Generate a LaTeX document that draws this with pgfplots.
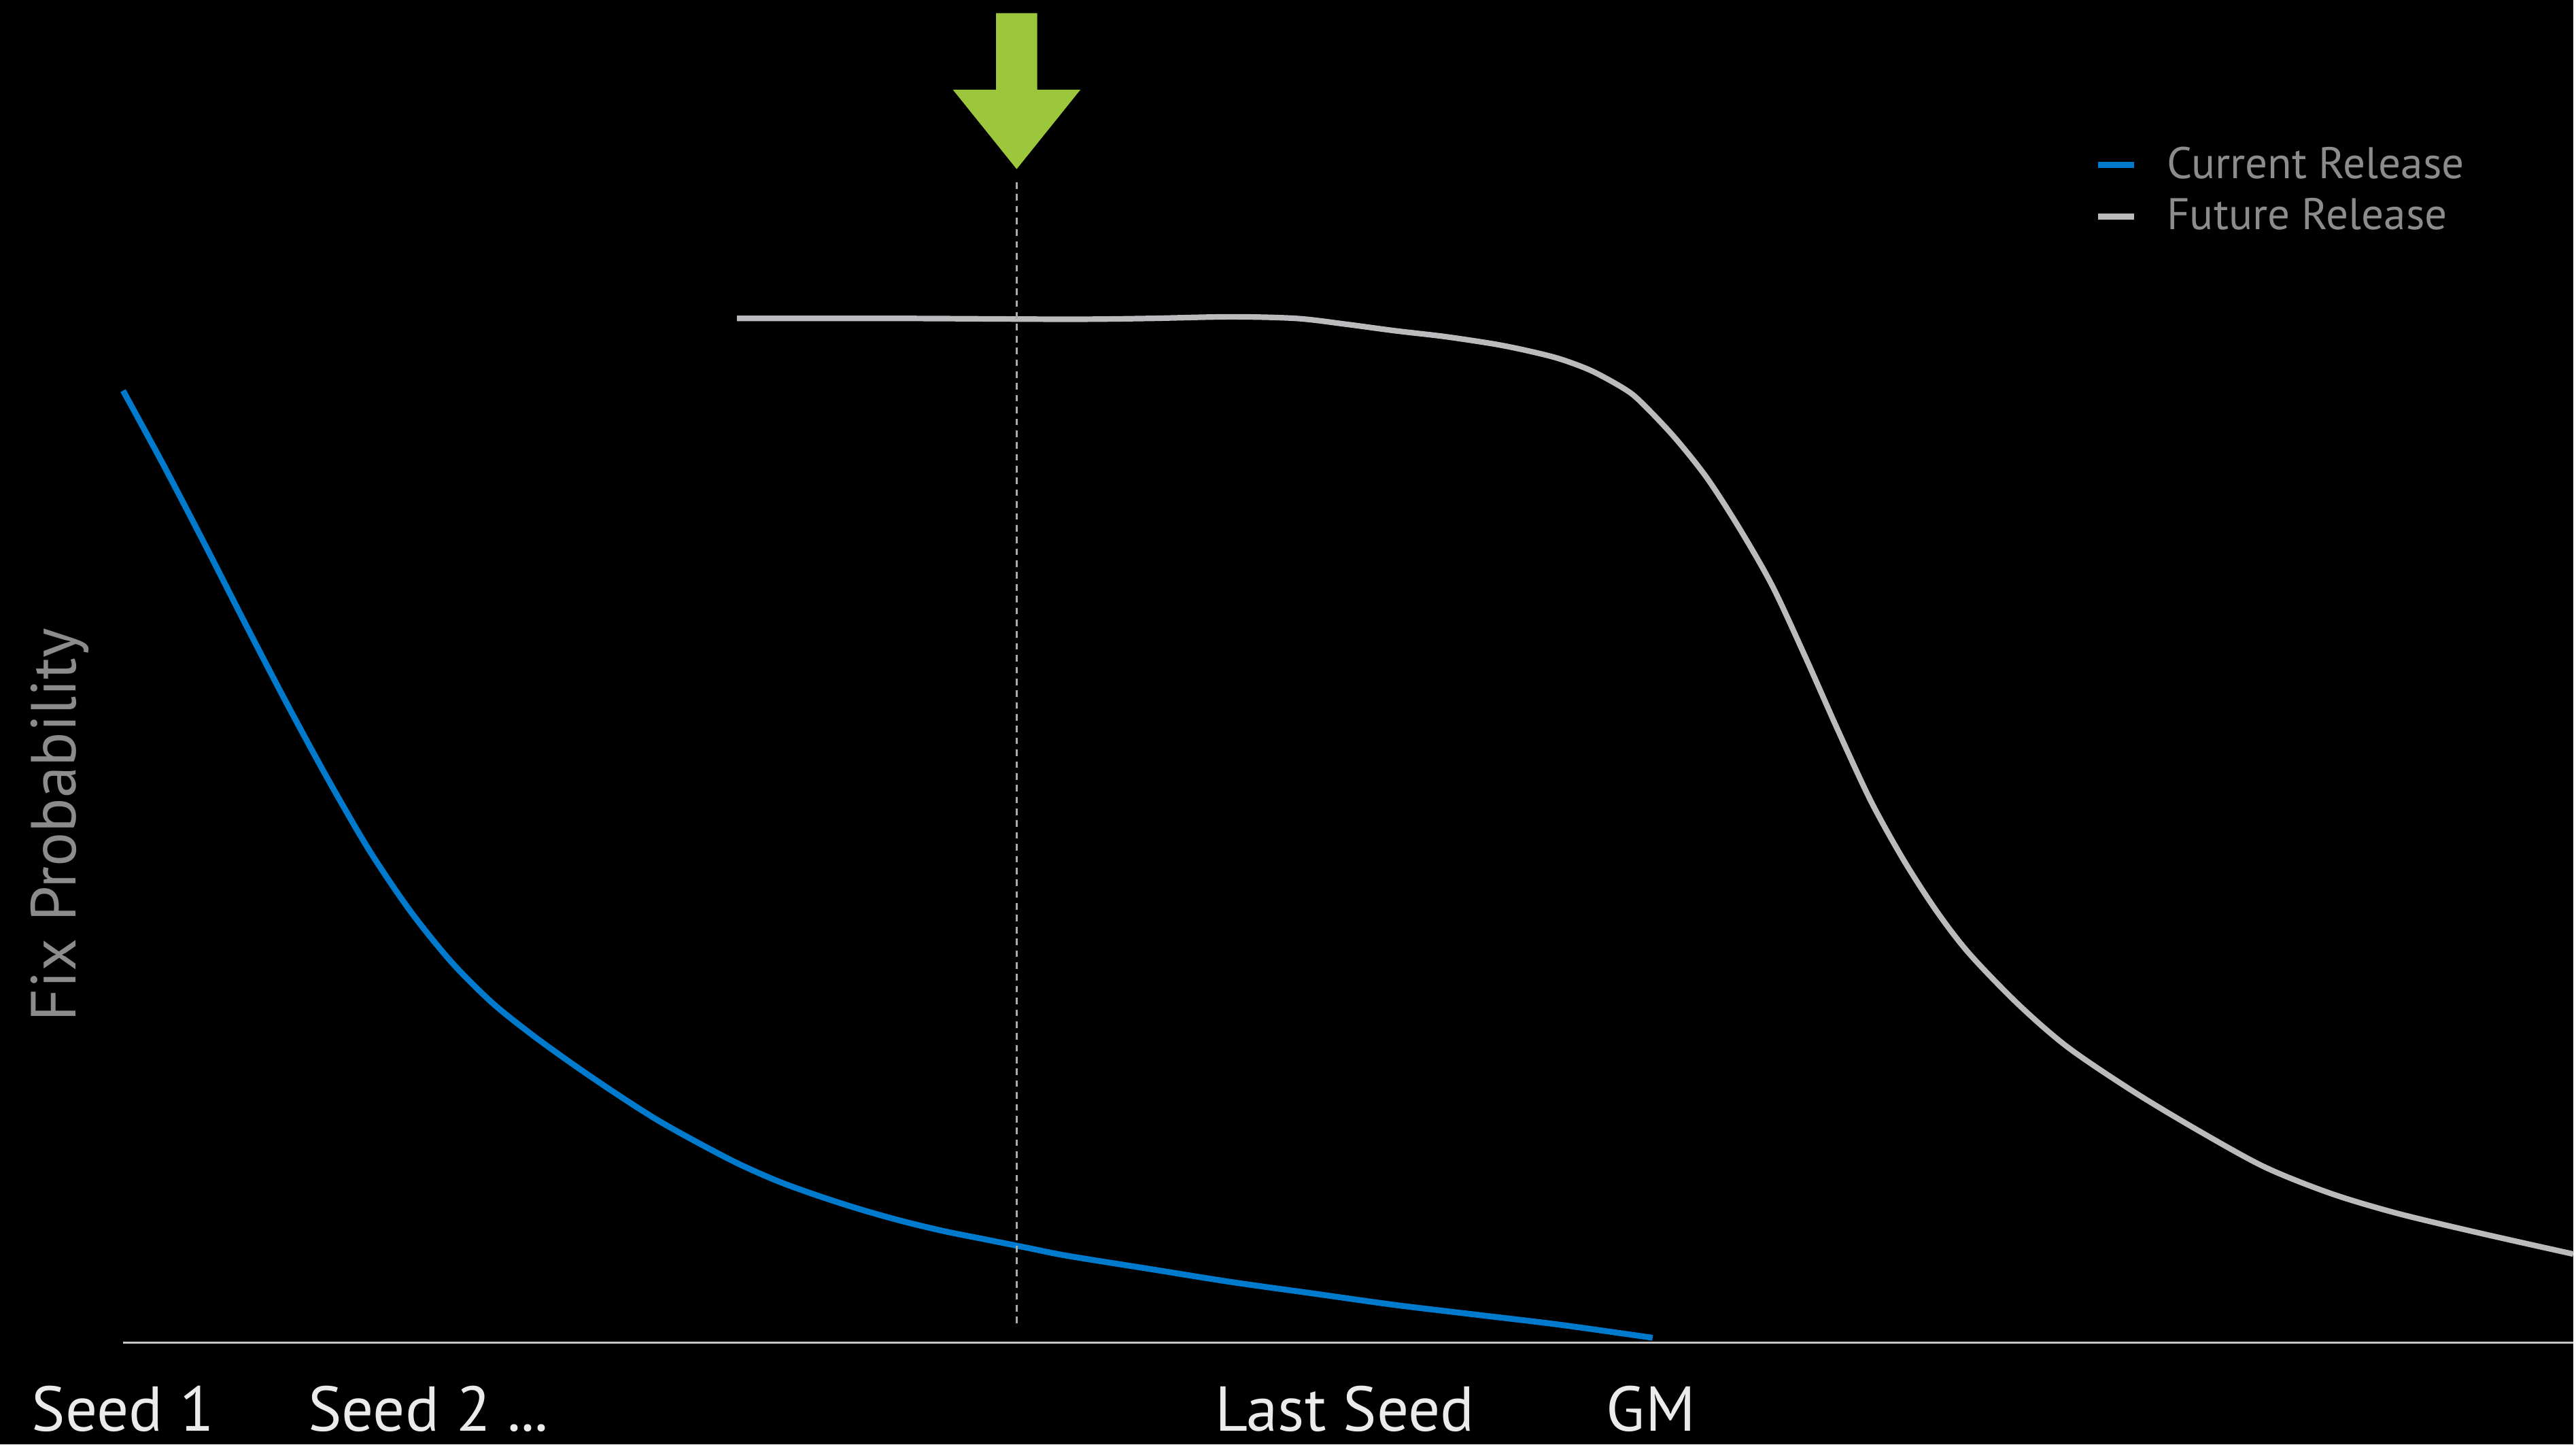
\documentclass[border=0pt]{standalone}
\usepackage{pgfplots}
\pgfplotsset{compat=1.18}
\usepackage{fontspec}
\setmainfont{PT Sans}
\definecolor{curblue}{RGB}{0,122,204}
\definecolor{futgray}{RGB}{187,187,190}
\definecolor{labgray}{RGB}{140,140,140}
\definecolor{ticklab}{RGB}{235,235,235}
\definecolor{axgray}{RGB}{196,196,196}
\definecolor{arrowgreen}{RGB}{156,198,60}
\definecolor{dashgray}{RGB}{170,170,170}
\newcommand{\dotsthree}{.\kern0pt.\kern0pt.}
\begin{document}
\begin{tikzpicture}
\fill[black] (0,0) rectangle (784pt,440pt);
\begin{axis}[
  at={(37.5pt,31pt)}, anchor=south west,
  scale only axis, width=746.5pt, height=409pt,
  xmin=75, xmax=1568, ymin=62, ymax=880,
  clip=false,
  axis x line*=bottom, axis y line*=left,
  x axis line style={draw=axgray, line width=0.6pt},
  y axis line style={draw=none},
  ytick=\empty,
  xtick={75,261,819.5,1006},
  xticklabels={Seed 1, {Seed 2 \dotsthree}, Last Seed, GM},
  major tick length=0pt,
  x tick label style={anchor=base, yshift=-27pt, text=ticklab, font=\fontsize{19.3}{22}\selectfont},
  ylabel={Fix Probability},
  ylabel style={at={(axis description cs:-0.0194,0.3857)}, anchor=base, rotate=0, text=labgray, font=\fontsize{19.4}{22}\selectfont},
  legend style={at={(axis cs:1270,799)}, anchor=north west, draw=none, fill=none,
    font=\fontsize{13.5}{15}\selectfont, text=labgray, row sep=0.6pt, column sep=7pt,
    nodes={inner sep=2pt}},
  legend cell align=left,
  legend image code/.code={\draw[#1, line width=2pt] (0pt,0pt) -- (11pt,0pt);},
]
% Current Release (y = 880 - pixel row of reference)
\addplot[curblue, line width=1.8pt, smooth] coordinates {
(75,642) (100,596) (125,548) (150,499) (175,451) (200,405) (225,362)
(250,325) (275,294) (300,269) (325,249) (350,231) (375,214) (400,198)
(425,184) (450,171) (475,160) (500,151) (525,143) (550,136) (575,130)
(600,125) (625,120) (650,115) (700,107) (750,99) (800,92) (850,85)
(900,79) (950,73) (1007,65)};
\addlegendentry{Current Release}
\addplot[futgray, line width=1.7pt, smooth] coordinates {
(449,686) (550,686) (650,685.5) (700,686) (750,687) (790,686) (820,682.5)
(850,678.5) (880,675) (910,670.5) (930,666.5) (950,661.5) (970,654)
(990,643) (1000,635) (1020,614) (1040,589) (1060,558) (1080,523)
(1100,480) (1120,435) (1140,392) (1160,356) (1180,325) (1200,299)
(1230,268) (1260,242) (1300,215) (1340,191) (1380,169) (1420,153)
(1460,141) (1510,129) (1568,116)};
\addlegendentry{Future Release}
\addplot[dashgray, line width=0.6pt, dash pattern=on 2pt off 1.6pt, forget plot] coordinates {(619.5,769) (619.5,71)};
\addplot[fill=arrowgreen, draw=none, forget plot] coordinates {
(607,872) (632,872) (632,825.4) (658.4,825.4) (619.5,777) (580.6,825.4) (607,825.4)} -- cycle;
\end{axis}
\end{tikzpicture}
\end{document}
